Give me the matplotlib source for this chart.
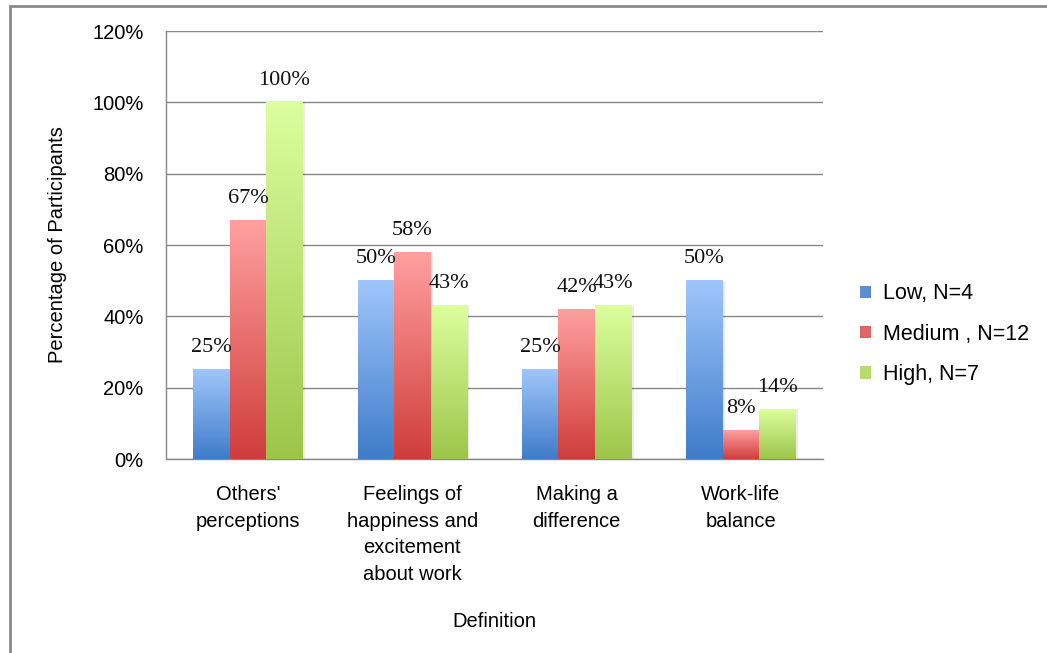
import matplotlib.pyplot as plt
import numpy as np
from matplotlib.colors import LinearSegmentedColormap
from matplotlib.patches import Patch, Rectangle

categories = ["Others'\nperceptions", "Feelings of\nhappiness and\nexcitement\nabout work",
              "Making a\ndifference", "Work-life\nbalance"]
series = ["Low, N=4", "Medium , N=12", "High, N=7"]
low = [25, 50, 25, 50]
medium = [67, 58, 42, 8]
high = [100, 43, 43, 14]
yticks = [0, 20, 40, 60, 80, 100, 120]

# top / bottom colours of each bar gradient
grads = [("#a0c6fb", "#3f7cc9"), ("#ffa0a0", "#cf3d3b"), ("#dcfe9e", "#9dc54a")]

sans = "Liberation Sans"
serif = "Liberation Serif"

fig = plt.figure(figsize=(10.47, 6.53), dpi=100)
ax = fig.add_axes([0.1585, 0.297, 0.6275, 0.6555])

x = np.arange(len(categories))
w = 0.222
grad = np.linspace(1, 0, 256).reshape(-1, 1)
for i, vals in enumerate([low, medium, high]):
    cmap = LinearSegmentedColormap.from_list("g%d" % i, [grads[i][1], grads[i][0]])
    for xi, v in zip(x, vals):
        x0 = xi + (i - 1) * w - w / 2
        # soft shadow on the right
        ax.add_patch(Rectangle((x0 + 0.015, 0), w, v, color="#000000", alpha=0.08,
                               lw=0, zorder=2))
        ax.imshow(grad, cmap=cmap, extent=[x0, x0 + w, 0, v], aspect="auto",
                  zorder=3, interpolation="bilinear")
        ax.annotate(f"{v}%", (xi + (i - 1) * w, v), xytext=(0, 9),
                    textcoords="offset points", ha="center", va="bottom",
                    fontsize=16, family=serif, color="#111111", zorder=4)

ax.set_xlim(-0.5, len(categories) - 0.5)
ax.set_ylim(0, 120)
ax.set_yticks(yticks)
ax.set_yticklabels([f"{t}%" for t in yticks], fontsize=14.5, family=sans)
ax.set_xticks(x)
ax.set_xticklabels(categories, fontsize=14.5, family=sans, linespacing=1.5, va="top")
ax.tick_params(axis="x", length=0, pad=19)
ax.tick_params(axis="y", length=0, pad=16)
ax.yaxis.grid(True, color="#888888", lw=1)
ax.set_axisbelow(True)
for s in ["top", "right"]:
    ax.spines[s].set_visible(False)
for s in ["left", "bottom"]:
    ax.spines[s].set_color("#888888")
    ax.spines[s].set_linewidth(1)

ax.set_ylabel("Percentage of Participants", fontsize=14.5, family=sans, labelpad=18)
ax.set_xlabel("Definition", fontsize=14.5, family=sans, labelpad=20)

handles = [Patch(facecolor="#5a8fd6"), Patch(facecolor="#e06565"), Patch(facecolor="#b8dc6a")]
fig.legend(handles, series, loc="center left", bbox_to_anchor=(0.803, 0.488),
           frameon=False, prop={"family": sans, "size": 15.5},
           handlelength=0.5, handleheight=0.5, handletextpad=0.55, labelspacing=0.9)

# outer chart border
fig.add_artist(Rectangle((10 / 1047, -0.05), 1.2, 1 - 6 / 653 + 0.05,
                         transform=fig.transFigure, fill=False,
                         edgecolor="#8a8a8a", lw=2))

fig.savefig("out.png", dpi=100)
